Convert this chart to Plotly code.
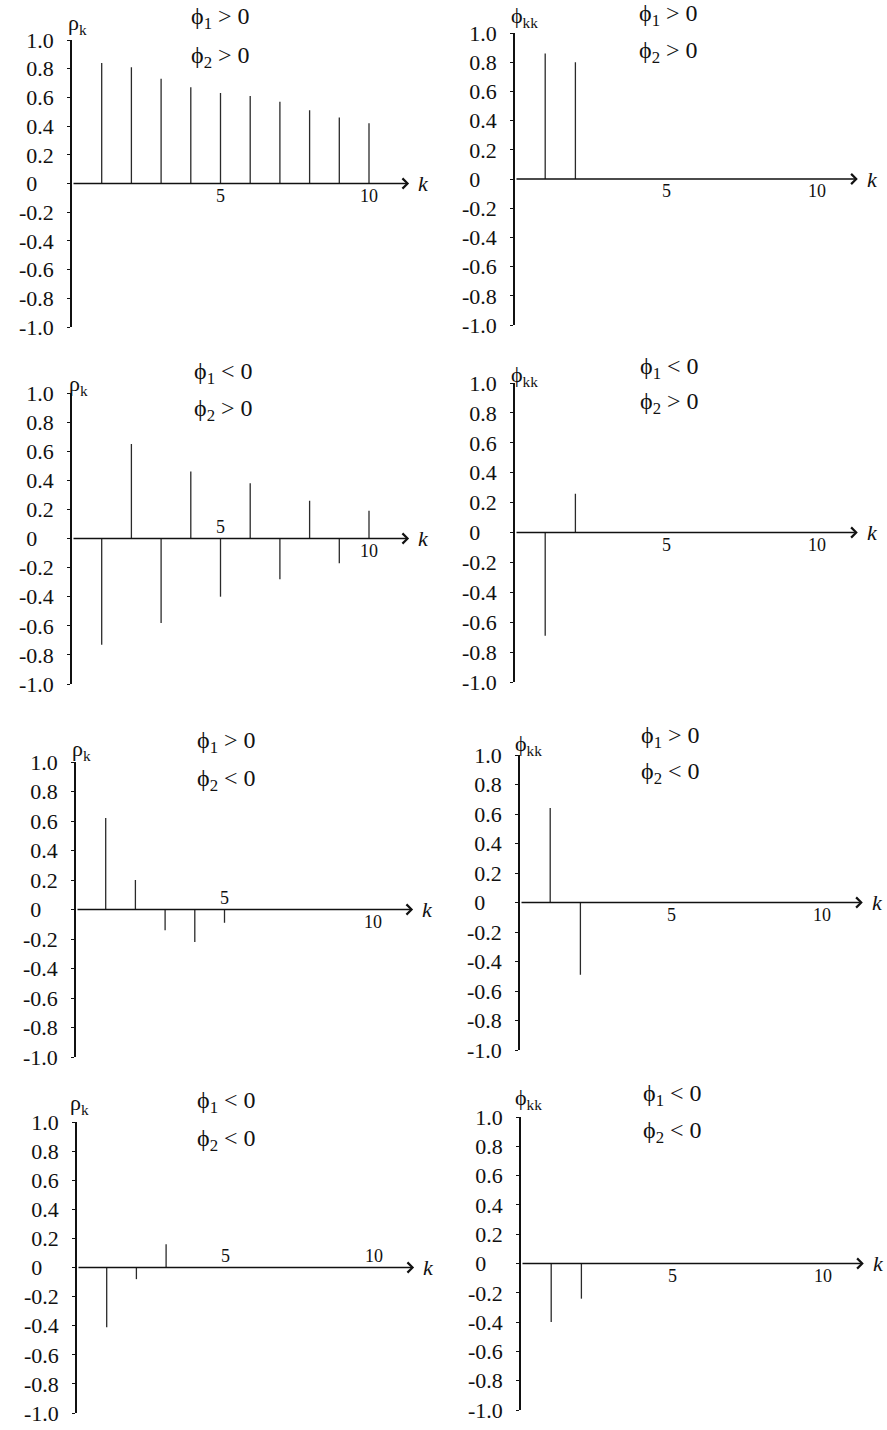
import plotly.graph_objects as go

# ---------------------------------------------------------------
# Theoretical ACF (rho_k) and PACF (phi_kk) patterns of AR(2)
# for the four sign combinations of phi_1 and phi_2
# ---------------------------------------------------------------
acf_pp = [0.84, 0.81, 0.73, 0.67, 0.63, 0.61, 0.57, 0.51, 0.46, 0.42]
pacf_pp = [0.86, 0.80]

acf_np = [-0.73, 0.65, -0.58, 0.46, -0.40, 0.38, -0.28, 0.26, -0.17, 0.19]
pacf_np = [-0.69, 0.26]

acf_pn = [0.62, 0.20, -0.14, -0.22, -0.09]
pacf_pn = [0.64, -0.49]

acf_nn = [-0.41, -0.08, 0.16]
pacf_nn = [-0.40, -0.24]

ytick_vals = [1.0, 0.8, 0.6, 0.4, 0.2, 0.0, -0.2, -0.4, -0.6, -0.8, -1.0]
ytick_text = ["1.0", "0.8", "0.6", "0.4", "0.2", "0\u00a0\u00a0\u00a0",
              "-0.2", "-0.4", "-0.6", "-0.8", "-1.0"]
xtick_vals = [5, 10]
xtick_text = ["5", "10"]

RHO = "\u03c1<sub>k</sub>"
PHI = "\u03d5<sub>kk</sub>"
P1 = "\u03d5<sub>1</sub>"
P2 = "\u03d5<sub>2</sub>"

series = [
    (acf_pp, RHO, P1 + " > 0", P2 + " > 0"),
    (pacf_pp, PHI, P1 + " > 0", P2 + " > 0"),
    (acf_np, RHO, P1 + " < 0", P2 + " > 0"),
    (pacf_np, PHI, P1 + " < 0", P2 + " > 0"),
    (acf_pn, RHO, P1 + " > 0", P2 + " < 0"),
    (pacf_pn, PHI, P1 + " > 0", P2 + " < 0"),
    (acf_nn, RHO, P1 + " < 0", P2 + " < 0"),
    (pacf_nn, PHI, P1 + " < 0", P2 + " < 0"),
]

W, H = 887, 1430

# page geometry of each panel (pixels): origin x, px per lag, y of +1, y of -1
frames = [
    dict(x0=72, s=29.7, top=40, bot=327, lab=(66, 24), cond=(220, 18, 57), xside=(1, 1)),
    dict(x0=515, s=30.2, top=33, bot=325, lab=(509, 17), cond=(668, 15, 52), xside=(1, 1)),
    dict(x0=72, s=29.7, top=393, bot=684, lab=(67, 385), cond=(223, 373, 410), xside=(-1, 1)),
    dict(x0=515, s=30.2, top=383, bot=682, lab=(509, 376), cond=(669, 368, 403), xside=(1, 1)),
    dict(x0=76, s=29.7, top=762, bot=1057, lab=(70, 750), cond=(226, 742, 780), xside=(-1, 1)),
    dict(x0=520, s=30.2, top=755, bot=1050, lab=(513, 745), cond=(670, 737, 773), xside=(1, 1)),
    dict(x0=77, s=29.7, top=1122, bot=1413, lab=(68, 1104), cond=(226, 1102, 1140), xside=(-1, -1)),
    dict(x0=521, s=30.2, top=1117, bot=1410, lab=(513, 1099), cond=(672, 1095, 1132), xside=(1, 1)),
]

XMAX = 12.0
ARROW_END = 11.35
FONT = "Liberation Serif"
INK = "#111111"

fig = go.Figure()
annotations = []
layout_axes = {}

for i, ((vals, ylab, c1, c2), fr) in enumerate(zip(series, frames), start=1):
    xa = "x" if i == 1 else f"x{i}"
    ya = "y" if i == 1 else f"y{i}"
    xkey = "xaxis" if i == 1 else f"xaxis{i}"
    ykey = "yaxis" if i == 1 else f"yaxis{i}"

    # spikes from the lag axis up/down to each coefficient
    xs, ys = [], []
    for k, v in enumerate(vals, start=1):
        xs += [k, k, None]
        ys += [0, v, None]
    fig.add_trace(go.Scatter(x=xs, y=ys, mode="lines", xaxis=xa, yaxis=ya,
                             line=dict(color="#2a2a2a", width=1.3),
                             showlegend=False, hoverinfo="skip"))

    layout_axes[xkey] = dict(domain=[fr["x0"] / W, (fr["x0"] + XMAX * fr["s"]) / W],
                             range=[0, XMAX], visible=False, anchor=ya,
                             automargin=False)
    layout_axes[ykey] = dict(domain=[1 - fr["bot"] / H, 1 - fr["top"] / H],
                             range=[-1, 1], anchor=xa, automargin=False,
                             showline=True, linecolor=INK, linewidth=1.5,
                             showgrid=False, zeroline=False,
                             ticks="outside", ticklen=3, tickwidth=1.2, tickcolor=INK,
                             tickvals=ytick_vals, ticktext=ytick_text,
                             ticklabelstandoff=9,
                             tickfont=dict(family=FONT, size=22, color=INK))

    # lag axis drawn as an arrow along rho = 0
    annotations.append(dict(x=ARROW_END, y=0, ax=0, ay=0, xref=xa, yref=ya,
                            axref=xa, ayref=ya, text="", showarrow=True,
                            arrowhead=4, arrowsize=1.4, arrowwidth=1.4,
                            arrowcolor=INK, standoff=0, startstandoff=0))
    annotations.append(dict(x=ARROW_END + 0.5, y=0, xref=xa, yref=ya, text="<i>k</i>",
                            showarrow=False, xanchor="center", yanchor="middle",
                            font=dict(family=FONT, size=22, color=INK)))
    for tv, tt, side in zip(xtick_vals, xtick_text, fr["xside"]):
        annotations.append(dict(x=tv, y=0, xref=xa, yref=ya, text=tt, showarrow=False,
                                xanchor="center", yanchor="middle", yshift=-12 * side,
                                font=dict(family=FONT, size=18, color=INK)))

    # panel symbol near the top of the vertical axis
    lx, ly = fr["lab"]
    annotations.append(dict(x=lx / W, y=1 - ly / H, xref="paper", yref="paper",
                            text=ylab, showarrow=False, xanchor="left", yanchor="middle",
                            font=dict(family=FONT, size=22, color=INK)))

    # sign conditions on the AR coefficients
    cx, cy1, cy2 = fr["cond"]
    for txt, cy in ((c1, cy1), (c2, cy2)):
        annotations.append(dict(x=cx / W, y=1 - cy / H, xref="paper", yref="paper",
                                text=txt, showarrow=False, xanchor="center",
                                yanchor="middle",
                                font=dict(family=FONT, size=24, color=INK)))

fig.update_layout(
    width=W, height=H,
    margin=dict(l=0, r=0, t=0, b=0, pad=0, autoexpand=False),
    paper_bgcolor="white", plot_bgcolor="white",
    annotations=annotations,
    **layout_axes,
)

# let the figure fill the page edge to edge
fig.write_html("out.html", post_script="document.body.style.margin='0px';")
